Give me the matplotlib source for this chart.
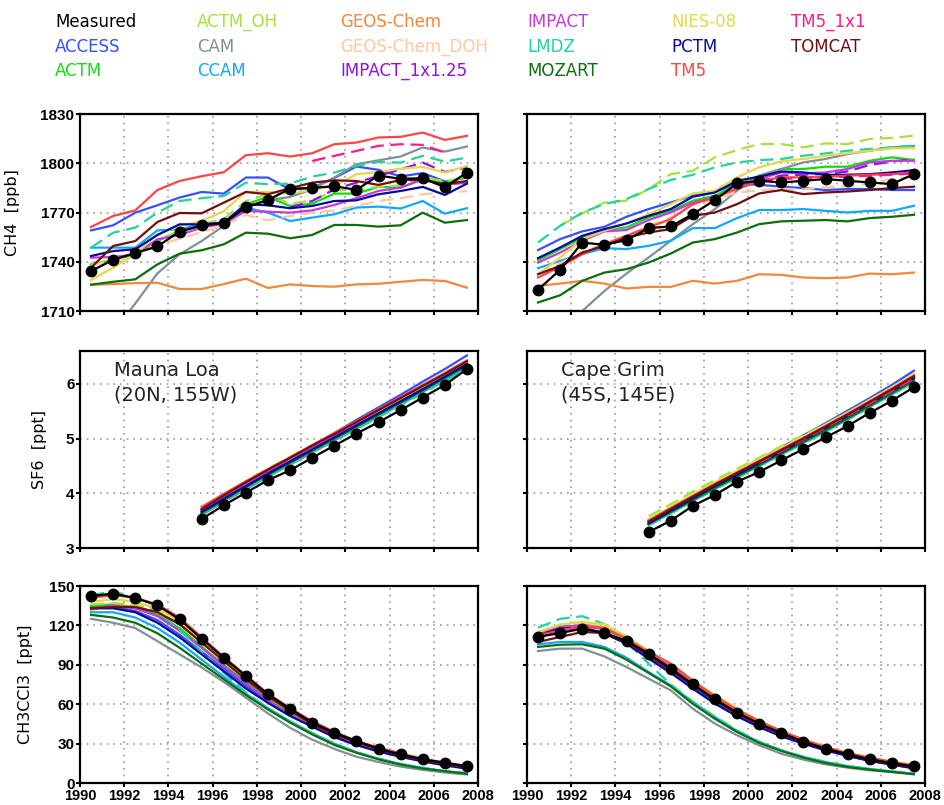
import matplotlib
import numpy as np

matplotlib.use("Agg")
import matplotlib.pyplot as plt

plt.rcParams["font.family"] = ["DejaVu Sans"]

YEARS = [1990.5, 1991.5, 1992.5, 1993.5, 1994.5, 1995.5, 1996.5, 1997.5, 1998.5,
         1999.5, 2000.5, 2001.5, 2002.5, 2003.5, 2004.5, 2005.5, 2006.5, 2007.5]
YEARS_SF6 = YEARS[5:]

LEGEND_NAMES = ["Measured", "ACCESS", "ACTM", "ACTM_OH", "CAM", "CCAM", "GEOS-Chem",
                "GEOS-Chem_DOH", "IMPACT_1x1.25", "IMPACT", "LMDZ", "MOZART", "NIES-08",
                "PCTM", "TM5", "TM5_1x1", "TOMCAT"]
COLORS = {
    "Measured": "black", "ACCESS": "#3550ff", "ACTM": "#10dd10", "ACTM_OH": "#a6e23c",
    "CAM": "#7f9198", "CCAM": "#10a8ff", "GEOS-Chem": "#f5873a", "GEOS-Chem_DOH": "#ffc8a0",
    "IMPACT_1x1.25": "#9010e8", "IMPACT": "#c23ae0", "LMDZ": "#22d39a", "MOZART": "#0c6e0c",
    "NIES-08": "#e6d84a", "PCTM": "#0a0a96", "TM5": "#ff4444", "TM5_1x1": "#ff1a8c",
    "TOMCAT": "#6e1010",
}
DASHED = {"ACTM_OH", "GEOS-Chem_DOH", "IMPACT_1x1.25", "LMDZ", "TM5_1x1"}

# ---- CH4, Mauna Loa ----
CH4_MLO_MEAS = [1734.3, 1741.2, 1745.3, 1749.3, 1758.4, 1762.1, 1763.5, 1773.2, 1777.7,
                1784.4, 1785.0, 1786.0, 1783.8, 1792.5, 1790.5, 1790.9, 1785.4, 1794.3]
CH4_MLO_ACCESS = [1759.1, 1762.2, 1769.9, 1774.4, 1779.1, 1782.5, 1781.5, 1791.3, 1791.3,
                  1784.0, 1785.0, 1791.0, 1798.0, 1796.0, 1792.0, 1794.0, 1789.0, 1788.0]
CH4_MLO_ACTM = [1738.4, 1740.9, 1744.5, 1752.6, 1758.7, 1761.8, 1763.8, 1775.0, 1779.5,
                1774.0, 1775.4, 1781.5, 1781.5, 1785.6, 1785.2, 1790.2, 1788.2, 1791.3]
CH4_MLO_ACTM_OH = [1739.0, 1741.0, 1745.0, 1753.0, 1759.0, 1763.0, 1766.0, 1777.0, 1781.0,
                   1775.4, 1777.4, 1783.5, 1783.9, 1785.6, 1786.6, 1791.7, 1789.0, 1791.7]
CH4_MLO_CAM = [1685.0, 1697.0, 1714.6, 1732.9, 1744.5, 1752.6, 1761.8, 1773.0, 1777.4,
               1779.5, 1784.1, 1791.3, 1799.4, 1801.8, 1804.1, 1809.6, 1807.1, 1810.2]
CH4_MLO_CCAM = [1748.6, 1748.6, 1748.6, 1759.1, 1759.8, 1762.8, 1763.8, 1773.0, 1769.9,
                1764.8, 1766.9, 1768.9, 1773.0, 1773.6, 1772.4, 1777.0, 1769.3, 1772.6]
CH4_MLO_GEOS = [1726.0, 1726.4, 1727.0, 1727.2, 1723.4, 1723.4, 1726.4, 1729.7, 1724.0,
                1726.2, 1725.2, 1724.8, 1726.2, 1726.6, 1727.8, 1728.9, 1728.3, 1724.2]
CH4_MLO_GEOS_DOH = [1738.0, 1740.0, 1744.0, 1750.0, 1754.0, 1758.0, 1762.0, 1768.5, 1765.2,
                    1767.9, 1769.9, 1771.3, 1774.0, 1777.0, 1778.7, 1781.1, 1782.1, 1783.0]
CH4_MLO_IMPACT_HR = [None, None, None, None, None, None, None, None, None,
                     1773.0, 1777.0, 1784.1, 1788.2, 1792.3, 1796.3, 1800.4, 1794.7, 1797.4]
CH4_MLO_IMPACT = [1742.5, 1742.9, 1744.5, 1753.7, 1756.3, 1760.8, 1763.2, 1770.9, 1770.5,
                  1769.9, 1771.3, 1774.6, 1778.7, 1783.1, 1785.2, 1790.2, 1786.8, 1788.2]
CH4_MLO_LMDZ = [1748.6, 1757.7, 1760.8, 1769.9, 1777.0, 1778.7, 1780.1, 1788.2, 1787.2,
                1787.6, 1791.9, 1794.3, 1798.4, 1800.8, 1800.4, 1804.5, 1801.0, 1803.5]
CH4_MLO_MOZART = [1726.0, 1727.8, 1729.3, 1738.4, 1744.9, 1747.0, 1750.6, 1757.7, 1757.1,
                  1754.3, 1756.3, 1762.4, 1762.4, 1761.4, 1762.2, 1769.9, 1763.8, 1765.4]
CH4_MLO_NIES = [1728.9, 1736.4, 1744.5, 1756.7, 1761.8, 1764.8, 1770.9, 1782.5, 1782.5,
                1781.5, 1783.7, 1786.2, 1793.3, 1794.7, 1796.7, 1797.8, 1794.3, 1798.4]
CH4_MLO_PCTM = [1743.5, 1746.5, 1747.6, 1756.3, 1762.8, 1762.8, 1763.8, 1775.0, 1774.4,
                1772.6, 1774.0, 1777.0, 1777.4, 1781.1, 1783.1, 1785.6, 1780.7, 1787.6]
CH4_MLO_TM5 = [1761.2, 1767.9, 1771.3, 1783.7, 1789.2, 1792.1, 1794.5, 1804.9, 1806.1,
               1804.1, 1806.1, 1811.6, 1812.6, 1815.7, 1816.1, 1818.7, 1814.2, 1816.7]
CH4_MLO_TM5_HR = [None, None, None, None, None, None, None, None, None,
                  None, 1801.4, 1804.5, 1807.5, 1810.6, 1811.6, 1811.2, 1806.5, None]
CH4_MLO_TOMCAT = [1736.4, 1749.6, 1752.6, 1764.2, 1769.7, 1769.5, 1776.0, 1782.5, 1781.1,
                  1784.8, 1788.2, 1789.6, 1789.2, 1786.8, 1789.8, 1789.8, 1787.2, 1789.2]

# ---- CH4, Cape Grim ----
CH4_CGO_MEAS = [1723.0, 1735.1, 1751.7, 1750.3, 1753.2, 1760.5, 1761.5, 1769.0, 1777.6,
                1787.7, 1789.3, 1788.3, 1789.3, 1790.4, 1789.3, 1788.3, 1787.3, 1793.4]
CH4_CGO_ACCESS = [1747.1, 1753.8, 1758.5, 1761.3, 1767.4, 1772.1, 1776.1, 1780.2, 1782.8,
                  1787.3, 1786.9, 1785.7, 1784.9, 1783.7, 1784.3, 1784.3, 1783.7, 1783.7]
CH4_CGO_ACTM = [1741.0, 1747.7, 1754.8, 1759.3, 1760.9, 1767.0, 1771.0, 1777.2, 1780.2,
                1787.3, 1792.4, 1796.5, 1796.5, 1797.9, 1797.9, 1801.5, 1803.6, 1802.0]
CH4_CGO_ACTM_OH = [None, 1761.9, 1769.4, 1776.1, 1777.2, 1784.3, 1793.4, 1795.4, 1803.6,
                   1808.0, 1811.7, 1811.7, 1809.7, 1812.1, 1811.7, 1814.8, 1815.4, 1816.8]
CH4_CGO_CAM = [1690.0, 1700.0, 1710.0, 1722.2, 1732.8, 1742.6, 1752.8, 1762.9, 1772.1,
               1783.3, 1792.4, 1796.5, 1800.5, 1802.6, 1805.6, 1807.6, 1809.7, 1810.5]
CH4_CGO_CCAM = [1736.1, 1740.5, 1744.6, 1748.3, 1747.7, 1749.7, 1752.8, 1760.5, 1760.5,
                1766.6, 1771.5, 1771.5, 1772.1, 1771.0, 1770.0, 1771.0, 1771.0, 1774.1]
CH4_CGO_GEOS = [1725.3, 1726.7, 1728.4, 1726.7, 1723.7, 1724.7, 1724.7, 1728.4, 1726.7,
                1728.4, 1732.4, 1732.0, 1730.4, 1730.0, 1730.4, 1732.8, 1732.4, 1733.4]
CH4_CGO_GEOS_DOH = [1733.0, 1739.0, 1746.0, 1751.0, 1756.0, 1762.0, 1767.0, 1774.7, 1778.0,
                    1782.2, 1783.5, 1784.5, 1784.0, 1785.5, 1786.0, 1787.5, 1790.5, 1791.5]
CH4_CGO_IMPACT_HR = [None, None, None, None, None, None, None, None, None,
                     1784.5, 1789.0, 1792.5, 1793.0, 1793.5, 1795.0, 1799.0, 1801.0, 1802.5]
CH4_CGO_IMPACT = [1739.5, 1745.6, 1752.8, 1758.5, 1759.3, 1765.4, 1770.0, 1776.1, 1779.2,
                  1784.9, 1790.4, 1794.4, 1793.8, 1794.4, 1796.5, 1800.5, 1801.5, 1801.5]
CH4_CGO_LMDZ = [1751.7, 1761.9, 1770.0, 1775.1, 1778.2, 1784.3, 1789.8, 1793.0, 1797.5,
                1800.5, 1801.9, 1802.6, 1804.6, 1806.0, 1807.6, 1808.7, 1809.7, 1810.7]
CH4_CGO_MOZART = [1715.2, 1719.6, 1728.4, 1733.4, 1735.5, 1739.5, 1745.0, 1751.7, 1753.8,
                  1757.8, 1762.9, 1764.6, 1765.0, 1765.4, 1764.6, 1766.6, 1767.4, 1768.6]
CH4_CGO_NIES = [1732.4, 1742.6, 1753.8, 1758.9, 1763.3, 1769.0, 1775.1, 1781.6, 1783.3,
                1791.4, 1797.5, 1801.1, 1802.6, 1804.6, 1806.0, 1807.6, 1809.1, 1809.1]
CH4_CGO_PCTM = [1742.2, 1748.7, 1755.8, 1759.9, 1763.3, 1768.0, 1772.1, 1779.6, 1782.2,
                1789.3, 1791.8, 1795.0, 1794.4, 1793.0, 1793.0, 1793.4, 1794.4, 1795.8]
CH4_CGO_TM5 = [1730.4, 1736.9, 1744.6, 1750.7, 1755.8, 1760.9, 1766.0, 1775.1, 1779.2,
               1784.3, 1789.3, 1791.4, 1791.4, 1791.8, 1792.4, 1793.0, 1793.4, 1794.4]
CH4_CGO_TM5_HR = [None, None, None, None, None, None, None, None, None,
                  None, 1789.3, 1790.4, 1791.0, 1791.4, 1791.8, 1792.4, 1793.0, 1793.8]
CH4_CGO_TOMCAT = [1732.4, 1737.5, 1745.6, 1749.7, 1754.8, 1757.8, 1759.9, 1768.0, 1770.0,
                  1775.1, 1781.6, 1783.7, 1781.2, 1782.2, 1782.8, 1783.7, 1784.9, 1785.7]

# ---- SF6, Mauna Loa (1995.5 - 2007.5) ----
SF6_MLO_MEAS = [3.53, 3.78, 4.01, 4.24, 4.42, 4.65, 4.87, 5.09, 5.30, 5.52, 5.75, 5.98, 6.27]
SF6_MLO_ACCESS = [3.68, 3.93, 4.16, 4.40, 4.62, 4.86, 5.10, 5.34, 5.57, 5.80, 6.04, 6.27, 6.52]
SF6_MLO_ACTM = [3.70, 3.95, 4.19, 4.42, 4.64, 4.86, 5.07, 5.29, 5.50, 5.72, 5.94, 6.16, 6.38]
SF6_MLO_ACTM_OH = [3.72, 3.97, 4.22, 4.45, 4.67, 4.88, 5.08, 5.29, 5.50, 5.72, 5.94, 6.16, 6.37]
SF6_MLO_CAM = [3.60, 3.84, 4.07, 4.30, 4.52, 4.74, 4.96, 5.18, 5.40, 5.62, 5.85, 6.08, 6.31]
SF6_MLO_CCAM = [3.63, 3.87, 4.10, 4.33, 4.55, 4.77, 4.98, 5.20, 5.42, 5.64, 5.86, 6.09, 6.31]
SF6_MLO_IMPACT = [3.68, 3.92, 4.16, 4.39, 4.61, 4.83, 5.05, 5.27, 5.49, 5.71, 5.93, 6.15, 6.38]
SF6_MLO_LMDZ = [3.62, 3.86, 4.09, 4.31, 4.53, 4.75, 4.96, 5.17, 5.39, 5.61, 5.83, 6.05, 6.28]
SF6_MLO_MOZART = [3.64, 3.88, 4.12, 4.34, 4.56, 4.78, 5.00, 5.22, 5.44, 5.66, 5.88, 6.11, 6.34]
SF6_MLO_NIES = [3.72, 3.97, 4.21, 4.44, 4.66, 4.88, 5.09, 5.30, 5.51, 5.73, 5.95, 6.17, 6.40]
SF6_MLO_PCTM = [3.66, 3.90, 4.13, 4.36, 4.58, 4.80, 5.02, 5.24, 5.46, 5.68, 5.90, 6.13, 6.36]
SF6_MLO_TM5 = [3.75, 3.99, 4.22, 4.44, 4.65, 4.88, 5.10, 5.32, 5.54, 5.76, 5.98, 6.20, 6.43]
SF6_MLO_TOMCAT = [3.71, 3.96, 4.20, 4.43, 4.65, 4.87, 5.08, 5.30, 5.52, 5.74, 5.96, 6.18, 6.41]

# ---- SF6, Cape Grim ----
SF6_CGO_MEAS = [3.29, 3.50, 3.77, 3.97, 4.21, 4.39, 4.60, 4.81, 5.02, 5.23, 5.47, 5.69, 5.94]
SF6_CGO_ACCESS = [3.50, 3.73, 3.96, 4.18, 4.40, 4.62, 4.84, 5.06, 5.28, 5.51, 5.74, 5.98, 6.24]
SF6_CGO_ACTM = [3.52, 3.74, 3.97, 4.19, 4.40, 4.60, 4.81, 5.02, 5.23, 5.45, 5.67, 5.90, 6.12]
SF6_CGO_ACTM_OH = [3.58, 3.80, 4.03, 4.24, 4.45, 4.65, 4.86, 5.06, 5.26, 5.47, 5.69, 5.91, 6.14]
SF6_CGO_CAM = [3.43, 3.65, 3.87, 4.09, 4.30, 4.51, 4.72, 4.93, 5.14, 5.36, 5.59, 5.82, 6.05]
SF6_CGO_CCAM = [3.42, 3.64, 3.86, 4.08, 4.29, 4.50, 4.71, 4.92, 5.13, 5.35, 5.58, 5.81, 6.04]
SF6_CGO_IMPACT = [3.47, 3.70, 3.92, 4.14, 4.35, 4.56, 4.77, 4.98, 5.20, 5.42, 5.65, 5.88, 6.12]
SF6_CGO_LMDZ = [3.41, 3.63, 3.85, 4.07, 4.28, 4.49, 4.70, 4.91, 5.12, 5.34, 5.57, 5.80, 6.03]
SF6_CGO_MOZART = [3.44, 3.66, 3.88, 4.10, 4.31, 4.52, 4.73, 4.94, 5.15, 5.37, 5.60, 5.83, 6.06]
SF6_CGO_NIES = [3.52, 3.75, 3.98, 4.20, 4.41, 4.62, 4.83, 5.04, 5.26, 5.48, 5.71, 5.94, 6.18]
SF6_CGO_PCTM = [3.45, 3.68, 3.91, 4.13, 4.34, 4.55, 4.76, 4.97, 5.19, 5.41, 5.64, 5.87, 6.10]
SF6_CGO_TM5 = [3.50, 3.73, 3.95, 4.17, 4.38, 4.59, 4.80, 5.01, 5.23, 5.45, 5.68, 5.91, 6.15]
SF6_CGO_TM5_HR = [None, None, None, None, None, 4.56, 4.77, 4.98, 5.20, 5.42, 5.64, 5.87, 6.10]
SF6_CGO_TOMCAT = [3.48, 3.71, 3.94, 4.16, 4.37, 4.58, 4.79, 5.00, 5.22, 5.44, 5.67, 5.90, 6.14]

# ---- CH3CCl3, Mauna Loa ----
MCF_MLO_MEAS = [142.4, 144.2, 140.9, 135.3, 124.6, 109.9, 95.4, 81.5, 67.5,
                56.6, 46.0, 38.3, 32.0, 26.1, 21.8, 18.0, 15.5, 12.7]
MCF_MLO_ACCESS = [134, 134, 131, 124, 113, 100, 87, 74, 62, 52, 43, 36, 30, 25, 20.5, 17, 14, 11.5]
MCF_MLO_ACTM = [135, 136, 134, 128, 118, 104, 90, 77, 64, 53, 44, 36, 30, 25, 20.5, 17, 14, 11.5]
MCF_MLO_ACTM_OH = [136, 137, 136, 131, 121, 107, 93, 79, 66, 55, 45, 37, 31, 26, 21, 17.5, 14.5, 12]
MCF_MLO_CAM = [125, 122, 118, 108, 98, 88, 77, 65, 53, 42, 33, 26, 20, 16, 12.5, 10, 8, 6.5]
MCF_MLO_CCAM = [130, 130, 126, 118, 107, 94, 81, 68, 57, 47, 38, 30, 23.5, 18.5, 14.5, 11.5, 9, 7.5]
MCF_MLO_GEOS = [132, 135, 134, 130, 121, 107, 93, 79, 66, 55, 45, 37, 31, 26, 21, 17.5, 14.5, 12]
MCF_MLO_IMPACT = [133, 135, 133, 127, 116, 103, 89, 76, 63, 52, 43, 35, 29, 24, 20, 16.5, 13.5, 11]
MCF_MLO_LMDZ = [143, 146, 141, 131, 117, 100, 84, 69, 57, 47, 38, 30, 23.5, 18.5, 14.5, 11.5, 9, 7.5]
MCF_MLO_MOZART = [128, 126, 122, 114, 103, 91, 79, 67, 56, 46, 37, 29, 23, 18, 14, 11, 9, 7]
MCF_MLO_NIES = [138, 140, 138, 133, 123, 108, 94, 80, 67, 56, 46, 38, 31, 26, 22, 18, 15, 12.5]
MCF_MLO_PCTM = [133, 133, 130, 122, 111, 98, 85, 72, 61, 51, 43, 35, 29, 24, 20, 16.5, 13.5, 11]
MCF_MLO_TM5 = [141, 143, 141, 136, 126, 111, 96, 82, 68, 57, 47, 39, 32, 27, 22.5, 18.5, 15.5, 13]
MCF_MLO_TOMCAT = [133, 134, 134, 130, 121, 107, 93, 79, 66, 55, 45, 37, 31, 26, 21, 17.5, 14.5, 12]

# ---- CH3CCl3, Cape Grim ----
MCF_CGO_MEAS = [111.2, 114.2, 117.5, 114.2, 108.1, 98.5, 87.1, 75.1, 63.7,
                53.6, 45.2, 38.1, 31.5, 26.1, 21.8, 18.0, 15.2, 12.7]
MCF_CGO_ACCESS = [111.5, 116.5, 118.0, 114.5, 107.0, 96.0, 85.0, 73.0, 61.5,
                  51.5, 43.0, 36.0, 30.0, 25.0, 20.8, 17.0, 14.0, 11.3]
MCF_CGO_ACTM = [113.0, 118.0, 119.5, 117.0, 109.5, 98.5, 87.5, 75.0, 63.0,
                52.5, 43.8, 36.5, 30.5, 25.5, 21.2, 17.5, 14.4, 11.8]
MCF_CGO_ACTM_OH = [115.0, 119.5, 121.0, 118.5, 111.0, 100.0, 89.0, 76.5, 64.5,
                   54.0, 45.0, 37.5, 31.5, 26.2, 21.8, 18.0, 14.8, 12.2]
MCF_CGO_CAM = [100.5, 102.3, 102.3, 96.4, 88.3, 79.4, 70.6, 56.6, 45.2,
               36.3, 28.7, 22.3, 17.8, 14.2, 11.7, 9.6, 8.4, 7.1]
MCF_CGO_CCAM = [105.6, 107.4, 107.4, 103.6, 95.4, 84.5, 74.4, 61.6, 50.2,
                39.6, 31.2, 24.9, 19.8, 16.0, 12.9, 10.7, 8.9, 7.1]
MCF_CGO_GEOS = [113.5, 118.0, 120.5, 118.5, 111.0, 100.5, 90.0, 77.5, 65.5,
                55.0, 46.0, 38.5, 32.0, 26.8, 22.3, 18.5, 15.3, 12.6]
MCF_CGO_IMPACT = [113.7, 118.8, 120.1, 117.5, 109.9, 99.0, 88.3, 75.6, 63.5,
                  52.8, 43.9, 36.3, 30.5, 25.4, 21.1, 17.3, 14.2, 11.4]
MCF_CGO_LMDZ = [118.3, 125.0, 127.0, 121.0, 107.4, 90.9, 75.0, 62.0, 50.5,
                40.0, 31.5, 25.0, 20.0, 16.0, 13.0, 10.6, 8.7, 7.0]
MCF_CGO_MOZART = [103.6, 105.3, 105.6, 102.3, 93.9, 83.8, 73.6, 60.3, 48.9,
                  38.8, 30.5, 24.4, 19.3, 15.2, 12.2, 10.2, 8.4, 6.6]
MCF_CGO_NIES = [114.7, 120.8, 122.6, 120.8, 111.7, 99.7, 90.9, 78.2, 66.8,
                56.6, 47.2, 39.3, 33.0, 27.4, 22.8, 19.3, 16.5, 13.7]
MCF_CGO_PCTM = [112.4, 117.5, 118.3, 113.7, 106.1, 94.7, 83.8, 71.8, 60.4,
                50.8, 42.6, 35.5, 30.0, 24.9, 20.6, 16.8, 14.0, 11.2]
MCF_CGO_TM5 = [112.4, 116.2, 119.3, 117.5, 109.9, 99.7, 90.9, 77.7, 66.0,
               55.8, 47.2, 39.6, 33.0, 27.4, 22.8, 19.3, 16.0, 13.2]
MCF_CGO_TOMCAT = [107.4, 111.2, 115.0, 114.2, 107.4, 97.2, 85.8, 74.4, 63.0,
                  52.8, 44.7, 37.6, 31.2, 26.1, 21.8, 18.0, 14.7, 12.2]


def _panels():
    ch4_mlo = {
        "ACCESS": CH4_MLO_ACCESS, "ACTM": CH4_MLO_ACTM, "ACTM_OH": CH4_MLO_ACTM_OH,
        "CAM": CH4_MLO_CAM, "CCAM": CH4_MLO_CCAM, "GEOS-Chem": CH4_MLO_GEOS,
        "GEOS-Chem_DOH": CH4_MLO_GEOS_DOH, "IMPACT_1x1.25": CH4_MLO_IMPACT_HR,
        "IMPACT": CH4_MLO_IMPACT, "LMDZ": CH4_MLO_LMDZ, "MOZART": CH4_MLO_MOZART,
        "NIES-08": CH4_MLO_NIES, "PCTM": CH4_MLO_PCTM, "TM5": CH4_MLO_TM5,
        "TM5_1x1": CH4_MLO_TM5_HR, "TOMCAT": CH4_MLO_TOMCAT,
    }
    ch4_cgo = {
        "ACCESS": CH4_CGO_ACCESS, "ACTM": CH4_CGO_ACTM, "ACTM_OH": CH4_CGO_ACTM_OH,
        "CAM": CH4_CGO_CAM, "CCAM": CH4_CGO_CCAM, "GEOS-Chem": CH4_CGO_GEOS,
        "GEOS-Chem_DOH": CH4_CGO_GEOS_DOH, "IMPACT_1x1.25": CH4_CGO_IMPACT_HR,
        "IMPACT": CH4_CGO_IMPACT, "LMDZ": CH4_CGO_LMDZ, "MOZART": CH4_CGO_MOZART,
        "NIES-08": CH4_CGO_NIES, "PCTM": CH4_CGO_PCTM, "TM5": CH4_CGO_TM5,
        "TM5_1x1": CH4_CGO_TM5_HR, "TOMCAT": CH4_CGO_TOMCAT,
    }
    sf6_mlo = {
        "ACCESS": SF6_MLO_ACCESS, "ACTM": SF6_MLO_ACTM, "ACTM_OH": SF6_MLO_ACTM_OH,
        "CAM": SF6_MLO_CAM, "CCAM": SF6_MLO_CCAM, "IMPACT": SF6_MLO_IMPACT,
        "LMDZ": SF6_MLO_LMDZ, "MOZART": SF6_MLO_MOZART, "NIES-08": SF6_MLO_NIES,
        "PCTM": SF6_MLO_PCTM, "TM5": SF6_MLO_TM5, "TOMCAT": SF6_MLO_TOMCAT,
    }
    sf6_cgo = {
        "ACCESS": SF6_CGO_ACCESS, "ACTM": SF6_CGO_ACTM, "ACTM_OH": SF6_CGO_ACTM_OH,
        "CAM": SF6_CGO_CAM, "CCAM": SF6_CGO_CCAM, "IMPACT": SF6_CGO_IMPACT,
        "LMDZ": SF6_CGO_LMDZ, "MOZART": SF6_CGO_MOZART, "NIES-08": SF6_CGO_NIES,
        "PCTM": SF6_CGO_PCTM, "TM5": SF6_CGO_TM5, "TM5_1x1": SF6_CGO_TM5_HR,
        "TOMCAT": SF6_CGO_TOMCAT,
    }
    mcf_mlo = {
        "ACCESS": MCF_MLO_ACCESS, "ACTM": MCF_MLO_ACTM, "ACTM_OH": MCF_MLO_ACTM_OH,
        "CAM": MCF_MLO_CAM, "CCAM": MCF_MLO_CCAM, "GEOS-Chem": MCF_MLO_GEOS,
        "IMPACT": MCF_MLO_IMPACT, "LMDZ": MCF_MLO_LMDZ, "MOZART": MCF_MLO_MOZART,
        "NIES-08": MCF_MLO_NIES, "PCTM": MCF_MLO_PCTM, "TM5": MCF_MLO_TM5,
        "TOMCAT": MCF_MLO_TOMCAT,
    }
    mcf_cgo = {
        "ACCESS": MCF_CGO_ACCESS, "ACTM": MCF_CGO_ACTM, "ACTM_OH": MCF_CGO_ACTM_OH,
        "CAM": MCF_CGO_CAM, "CCAM": MCF_CGO_CCAM, "GEOS-Chem": MCF_CGO_GEOS,
        "IMPACT": MCF_CGO_IMPACT, "LMDZ": MCF_CGO_LMDZ, "MOZART": MCF_CGO_MOZART,
        "NIES-08": MCF_CGO_NIES, "PCTM": MCF_CGO_PCTM, "TM5": MCF_CGO_TM5,
        "TOMCAT": MCF_CGO_TOMCAT,
    }
    return [
        # row, col, x, measured, models, ylim, yticks, ylabel, label_x
        (0, 0, YEARS, CH4_MLO_MEAS, ch4_mlo, (1710, 1830), range(1710, 1831, 30), "CH4  [ppb]", -0.15),
        (0, 1, YEARS, CH4_CGO_MEAS, ch4_cgo, (1710, 1830), range(1710, 1831, 30), None, None),
        (1, 0, YEARS_SF6, SF6_MLO_MEAS, sf6_mlo, (3, 6.6), range(3, 7), "SF6  [ppt]", -0.083),
        (1, 1, YEARS_SF6, SF6_CGO_MEAS, sf6_cgo, (3, 6.6), range(3, 7), None, None),
        (2, 0, YEARS, MCF_MLO_MEAS, mcf_mlo, (0, 150), range(0, 151, 30), "CH3CCl3  [ppt]", -0.118),
        (2, 1, YEARS, MCF_CGO_MEAS, mcf_cgo, (0, 150), range(0, 151, 30), None, None),
    ]


def _style_axes(ax, ylim, yticks, show_y, show_x):
    ax.set_xlim(1990, 2008)
    ax.set_ylim(*ylim)
    ax.set_xticks(range(1990, 2009, 2))
    ax.set_yticks(list(yticks))
    ax.grid(True, color="#9a9a9a", linestyle=(0, (1, 3)), linewidth=1.2)
    ax.set_axisbelow(True)
    for spine in ax.spines.values():
        spine.set_linewidth(1.6)
        spine.set_color("black")
    ax.tick_params(direction="out", length=3, width=1.5, pad=1,
                   labelleft=show_y, labelbottom=show_x)
    ax.tick_params(axis="y", labelsize=11)
    ax.tick_params(axis="x", labelsize=10.5, pad=1)
    for lab in ax.get_xticklabels() + ax.get_yticklabels():
        lab.set_fontfamily("Liberation Sans")
        lab.set_fontweight("bold")


def main() -> None:
    fig = plt.figure(figsize=(9.44, 8.05), dpi=100)
    lefts = [80 / 944, 527 / 944]
    width = 398 / 944
    bottoms = [1 - 311 / 805, 1 - 548 / 805, 1 - 783 / 805]
    height = 197 / 805

    for row, col, xs, meas, models, ylim, yticks, ylabel, label_x in _panels():
        ax = fig.add_axes([lefts[col], bottoms[row], width, height])
        for name in LEGEND_NAMES[1:]:
            if name not in models:
                continue
            vals = np.array(models[name], dtype=float)
            ax.plot(xs, vals, color=COLORS[name], linewidth=1.6,
                    linestyle=(0, (6, 3)) if name in DASHED else "-")
        ax.plot(xs, meas, color="black", linewidth=1.6, marker="o",
                markersize=7.5, zorder=5)
        _style_axes(ax, ylim, yticks, show_y=(col == 0), show_x=(row == 2))
        if ylabel:
            ax.set_ylabel(ylabel, fontsize=11.5)
            ax.yaxis.set_label_coords(label_x, 0.5)
        if row == 1:
            site = "Mauna Loa\n(20N, 155W)" if col == 0 else "Cape Grim\n(45S, 145E)"
            ax.text(0.085, 0.95, site, transform=ax.transAxes, ha="left", va="top",
                    fontsize=14, linespacing=1.35, color="#222222")

    col_x = [55, 197, 340, 527, 671, 791]
    row_y = [22, 47, 71]
    for idx, name in enumerate(LEGEND_NAMES):
        c, r = divmod(idx, 3)
        fig.text(col_x[c] / 944, 1 - row_y[r] / 805, name, color=COLORS[name],
                 fontsize=12, ha="left", va="center")

    fig.savefig("out.png", dpi=100)
    plt.close(fig)


if __name__ == "__main__":
    main()
